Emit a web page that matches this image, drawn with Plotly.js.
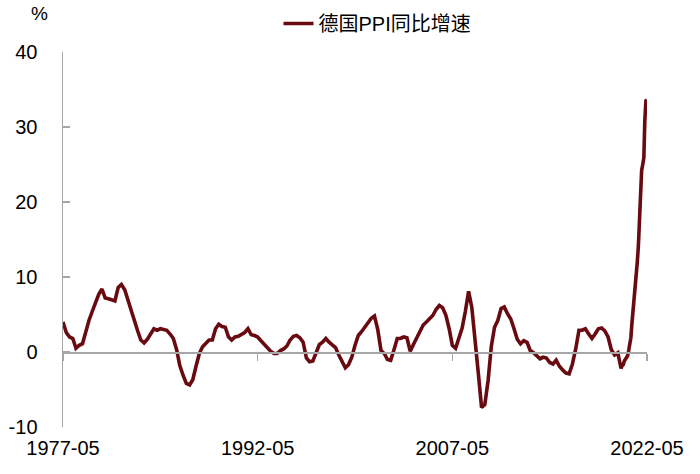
<!DOCTYPE html>
<html>
<head>
<meta charset="utf-8">
<script src="https://cdn.plot.ly/plotly-3.0.1.min.js"></script>
<style>html,body{margin:0;padding:0;background:#fff}#chart{width:700px;height:474px}</style>
</head>
<body>
<div id="chart"></div>
<script>
// ---- data ----
const seriesName = '德国PPI同比增速';
const unitLabel = '%';

// quarterly readings: May, Aug, Nov, Feb(next year), starting 1977-05
const quarterlyStart = [1977, 5];
const quarterlyValues = [
  4.0, 2.6, 2.0, 1.8,      // 1977
  0.5, 0.9, 1.1, 2.8,      // 1978
  4.2, 5.4, 6.6, 7.7,      // 1979
  8.4, 7.2, 7.1, 7.0,      // 1980
  6.8, 8.6, 9.0, 8.3,      // 1981
  6.9, 5.5, 4.4, 2.8,      // 1982
  1.6, 1.2, 1.7, 2.5,      // 1983
  3.1, 2.9, 3.1, 3.0,      // 1984
  2.9, 2.4, 1.8, 0.3,      // 1985
  -1.8, -3.1, -4.2, -4.4,  // 1986
  -3.7, -1.9, -0.2, 0.7,   // 1987
  1.2, 1.6, 1.6, 3.1,      // 1988
  3.7, 3.4, 3.3, 2.0,      // 1989
  1.6, 2.0, 2.1, 2.3,      // 1990
  2.6, 3.1, 2.3, 2.2,      // 1991
  2.0, 1.5, 1.0, 0.6,      // 1992
  0.1, -0.2, -0.2, 0.2,    // 1993
  0.4, 0.8, 1.6, 2.1,      // 1994
  2.2, 1.9, 1.3, -0.8,     // 1995
  -1.3, -1.2, 0.0, 1.0,    // 1996
  1.3, 1.8, 1.3, 1.0,      // 1997
  0.6, -0.4, -1.4, -2.1,   // 1998
  -1.7, -0.7, 0.9, 2.2,    // 1999
  2.7, 3.3, 4.0, 4.5,      // 2000
  4.8, 3.0, 0.2, -0.2,     // 2001
  -1.0, -1.1, 0.3, 1.8,    // 2002
  1.8, 2.0, 1.9, 0.1,      // 2003
  1.0, 1.9, 2.8, 3.6,      // 2004
  4.0, 4.4, 4.9, 5.7,      // 2005
  6.2, 5.9, 4.9, 3.1,      // 2006
  0.9, 0.5, 1.7, 3.2,      // 2007
  5.4, 8.1, 5.9, 0.8,      // 2008
  -2.8, -7.4, -7.0, -3.8,  // 2009
  0.7, 3.3, 4.2, 5.8,      // 2010
  6.0, 5.1, 4.4, 3.1,      // 2011
  1.7, 1.1, 1.5, 1.3,      // 2012
  0.2, -0.1, -0.5, -0.9,   // 2013
  -0.7, -0.8, -1.4, -1.6,  // 2014
  -1.1, -1.9, -2.4, -2.8,  // 2015
  -2.9, -1.6, 0.4, 2.9,    // 2016
  2.9, 3.1, 2.4, 1.8,      // 2017
  2.4, 3.1, 3.2, 2.8,      // 2018
  2.0, 0.3, -0.4, -0.1     // 2019
];

// monthly readings from 2020-03 to 2022-05
const monthlyStart = [2020, 3];
const monthlyValues = [
  -0.8, -1.9, -2.2, -1.8, -1.7, -1.2, -1.0, -0.7, -0.5, 0.2,  // 2020-03..12
  0.9, 1.9, 3.7, 5.2, 7.2, 8.5, 10.4, 12.0, 14.2, 18.4, 19.2, 24.2, // 2021
  25.0, 25.9, 30.9, 33.5, 33.6  // 2022-01..05
];

const xTickLabels = ['1977-05', '1992-05', '2007-05', '2022-05'];
const yTickValues = [-10, 0, 10, 20, 30, 40];
const yTickLabels = ['-10', '0', '10', '20', '30', '40'];

// ---- build date categories ----
function dateAt(start, addMonths) {
  const t = start[0] * 12 + (start[1] - 1) + addMonths;
  return Math.floor(t / 12) + '-' + String(t % 12 + 1).padStart(2, '0') + '-01';
}
const dates = [];
const values = [];
quarterlyValues.forEach((v, i) => { dates.push(dateAt(quarterlyStart, 3 * i)); values.push(v); });
monthlyValues.forEach((v, i) => { dates.push(dateAt(monthlyStart, i)); values.push(v); });

const tickDates = xTickLabels.map(s => s + '-01');

const axisColor = '#a6a6a6';
const lineColor = '#680a10';

const trace = {
  type: 'scatter', mode: 'lines', name: seriesName,
  x: dates, y: values,
  line: {color: lineColor, width: 3.6},
  hoverinfo: 'skip'
};

const layout = {
  width: 700, height: 474,
  margin: {l: 63, r: 53, t: 52, b: 47, pad: 0, autoexpand: false},
  paper_bgcolor: '#ffffff', plot_bgcolor: '#ffffff',
  font: {family: '"Liberation Sans", Arial, "Noto Sans CJK SC", sans-serif', size: 20, color: '#000000'},
  showlegend: true,
  legend: {
    orientation: 'h', x: 0.369, y: 1.076, xanchor: 'left', yanchor: 'middle',
    font: {family: '"Liberation Sans", "Noto Sans CJK SC", sans-serif', size: 20, color: '#000000'},
    bgcolor: 'rgba(0,0,0,0)', borderwidth: 0
  },
  xaxis: {
    type: 'date', range: ['1977-05-01', '2022-05-01'],
    anchor: 'free', position: 0.2,
    showline: true, linecolor: axisColor, linewidth: 1.5,
    ticks: 'outside', ticklen: 7, tickwidth: 1.5, tickcolor: axisColor,
    tickvals: tickDates, ticktext: xTickLabels,
    ticklabelstandoff: 70,
    showgrid: false, zeroline: false, fixedrange: true
  },
  yaxis: {
    range: [-10, 40], tickvals: yTickValues, ticktext: yTickLabels,
    ticks: 'inside', ticklen: 7, tickwidth: 1.5, tickcolor: axisColor,
    showline: true, linecolor: axisColor, linewidth: 1.5,
    ticklabelstandoff: 20,
    showgrid: false, zeroline: false, fixedrange: true
  },
  annotations: [{
    text: unitLabel, xref: 'paper', yref: 'paper', x: -0.041, y: 1.102,
    xanchor: 'center', yanchor: 'middle', showarrow: false,
    font: {size: 19, color: '#000000'}
  }]
};

Plotly.newPlot('chart', [trace], layout, {staticPlot: true, displayModeBar: false});
</script>
</body>
</html>
